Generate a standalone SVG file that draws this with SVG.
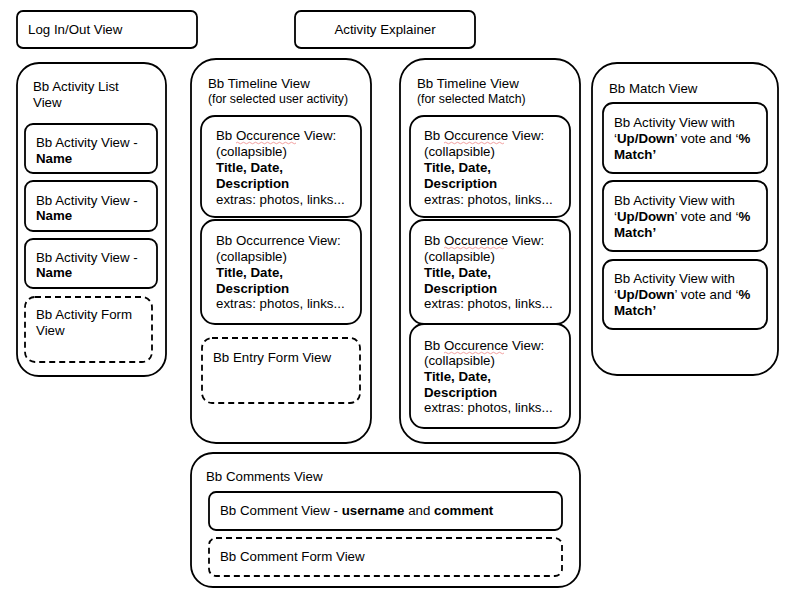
<svg xmlns="http://www.w3.org/2000/svg" width="800" height="600" viewBox="0 0 800 600">
<style>
text{font-family:"Liberation Sans",Arial,sans-serif;font-size:13.3px;fill:#000}
.s{font-size:12.3px}
.b{font-weight:bold}
.box{fill:#fff;stroke:#000;stroke-width:1.8}
.dash{fill:#fff;stroke:#000;stroke-width:1.8;stroke-dasharray:6 4}
.sq{fill:none;stroke:#e88;stroke-width:0.8}
</style>
<rect width="800" height="600" fill="#fff"/>
<g id="login"><rect class="box" x="17" y="11" width="180" height="37" rx="6"/><text x="28" y="34">Log In/Out View</text></g>
<g id="explainer"><rect class="box" x="295" y="11" width="180" height="37" rx="6"/><text x="385" y="34" text-anchor="middle">Activity Explainer</text></g>

<g id="activity-list">
<rect class="box" x="17" y="63" width="149" height="313" rx="22"/>
<text x="33" y="91">Bb Activity List</text><text x="33" y="107">View</text>
<g id="al1"><rect class="box" x="25" y="124" width="132" height="49" rx="8"/><text x="36" y="147">Bb Activity View -</text><text x="36" y="163" class="b">Name</text></g>
<g id="al2"><rect class="box" x="25" y="181" width="132" height="50" rx="8"/><text x="36" y="205">Bb Activity View -</text><text x="36" y="220" class="b">Name</text></g>
<g id="al3"><rect class="box" x="25" y="239" width="132" height="49" rx="8"/><text x="36" y="262">Bb Activity View -</text><text x="36" y="277" class="b">Name</text></g>
<g id="al-form"><rect class="dash" x="25" y="297" width="127" height="65" rx="10"/><text x="36" y="319">Bb Activity Form</text><text x="36" y="335">View</text></g>
</g>

<g id="timeline-user">
<rect class="box" x="191" y="59" width="180" height="384" rx="25"/>
<text x="208" y="88">Bb Timeline View</text><text x="208" y="103" class="s">(for selected user activity)</text>
<g id="tu1"><rect class="box" x="201" y="116" width="160" height="101" rx="14"/>
<text x="216" y="140">Bb Occurence View:</text><path class="sq" d="M236 143 q1.5 -1.5 3 0 t3 0 t3 0 t3 0 t3 0 t3 0 t3 0 t3 0 t3 0 t3 0 t3 0 t3 0 t3 0 t3 0 t3 0 t3 0 t3 0 t3 0 t3 0 t3 0"/>
<text x="216" y="156">(collapsible)</text><text x="216" y="172" class="b">Title, Date,</text><text x="216" y="188" class="b">Description</text><text x="216" y="204">extras: photos, links...</text></g>
<g id="tu2"><rect class="box" x="201" y="220" width="160" height="104" rx="14"/>
<text x="216" y="245">Bb Occurrence View:</text><text x="216" y="261">(collapsible)</text><text x="216" y="277" class="b">Title, Date,</text><text x="216" y="293" class="b">Description</text><text x="216" y="308">extras: photos, links...</text></g>
<g id="tu-form"><rect class="dash" x="202" y="338" width="158" height="65" rx="10"/><text x="213" y="362">Bb Entry Form View</text></g>
</g>

<g id="timeline-match">
<rect class="box" x="400" y="59" width="180" height="384" rx="25"/>
<text x="417" y="88">Bb Timeline View</text><text x="417" y="103" class="s">(for selected Match)</text>
<g id="tm1"><rect class="box" x="410" y="116" width="160" height="101" rx="14"/>
<text x="424" y="140">Bb Occurence View:</text><path class="sq" d="M444 143 q1.5 -1.5 3 0 t3 0 t3 0 t3 0 t3 0 t3 0 t3 0 t3 0 t3 0 t3 0 t3 0 t3 0 t3 0 t3 0 t3 0 t3 0 t3 0 t3 0 t3 0 t3 0"/>
<text x="424" y="156">(collapsible)</text><text x="424" y="172" class="b">Title, Date,</text><text x="424" y="188" class="b">Description</text><text x="424" y="204">extras: photos, links...</text></g>
<g id="tm2"><rect class="box" x="410" y="220" width="160" height="104" rx="14"/>
<text x="424" y="245">Bb Occurence View:</text><path class="sq" d="M444 248 q1.5 -1.5 3 0 t3 0 t3 0 t3 0 t3 0 t3 0 t3 0 t3 0 t3 0 t3 0 t3 0 t3 0 t3 0 t3 0 t3 0 t3 0 t3 0 t3 0 t3 0 t3 0"/>
<text x="424" y="261">(collapsible)</text><text x="424" y="277" class="b">Title, Date,</text><text x="424" y="293" class="b">Description</text><text x="424" y="308">extras: photos, links...</text></g>
<g id="tm3"><rect class="box" x="410" y="324" width="160" height="104" rx="14"/>
<text x="424" y="350">Bb Occurence View:</text><path class="sq" d="M444 353 q1.5 -1.5 3 0 t3 0 t3 0 t3 0 t3 0 t3 0 t3 0 t3 0 t3 0 t3 0 t3 0 t3 0 t3 0 t3 0 t3 0 t3 0 t3 0 t3 0 t3 0 t3 0"/>
<text x="424" y="365">(collapsible)</text><text x="424" y="381" class="b">Title, Date,</text><text x="424" y="397" class="b">Description</text><text x="424" y="412">extras: photos, links...</text></g>
</g>

<g id="match">
<rect class="box" x="592" y="63" width="186" height="312" rx="25"/>
<text x="609" y="93">Bb Match View</text>
<g id="m1"><rect class="box" x="603" y="103" width="164" height="70" rx="10"/>
<text x="614" y="127">Bb Activity View with</text><text x="614" y="143">‘<tspan class="b">Up/Down</tspan>’ vote and ‘<tspan class="b">%</tspan></text><text x="614" y="159" class="b">Match’</text></g>
<g id="m2"><rect class="box" x="603" y="181" width="164" height="70" rx="10"/>
<text x="614" y="205">Bb Activity View with</text><text x="614" y="221">‘<tspan class="b">Up/Down</tspan>’ vote and ‘<tspan class="b">%</tspan></text><text x="614" y="237" class="b">Match’</text></g>
<g id="m3"><rect class="box" x="603" y="260" width="164" height="69" rx="10"/>
<text x="614" y="283">Bb Activity View with</text><text x="614" y="299">‘<tspan class="b">Up/Down</tspan>’ vote and ‘<tspan class="b">%</tspan></text><text x="614" y="315" class="b">Match’</text></g>
</g>

<g id="comments">
<rect class="box" x="191" y="453" width="389" height="134" rx="22"/>
<text x="206" y="481">Bb Comments View</text>
<g id="comment"><rect class="box" x="209" y="492" width="353" height="38" rx="7"/><text x="220" y="515">Bb Comment View - <tspan class="b">username</tspan> and <tspan class="b">comment</tspan></text></g>
<g id="comment-form"><rect class="dash" x="209" y="538" width="353" height="38" rx="7"/><text x="220" y="561">Bb Comment Form View</text></g>
</g>
<g id="connectors"/>
</svg>
